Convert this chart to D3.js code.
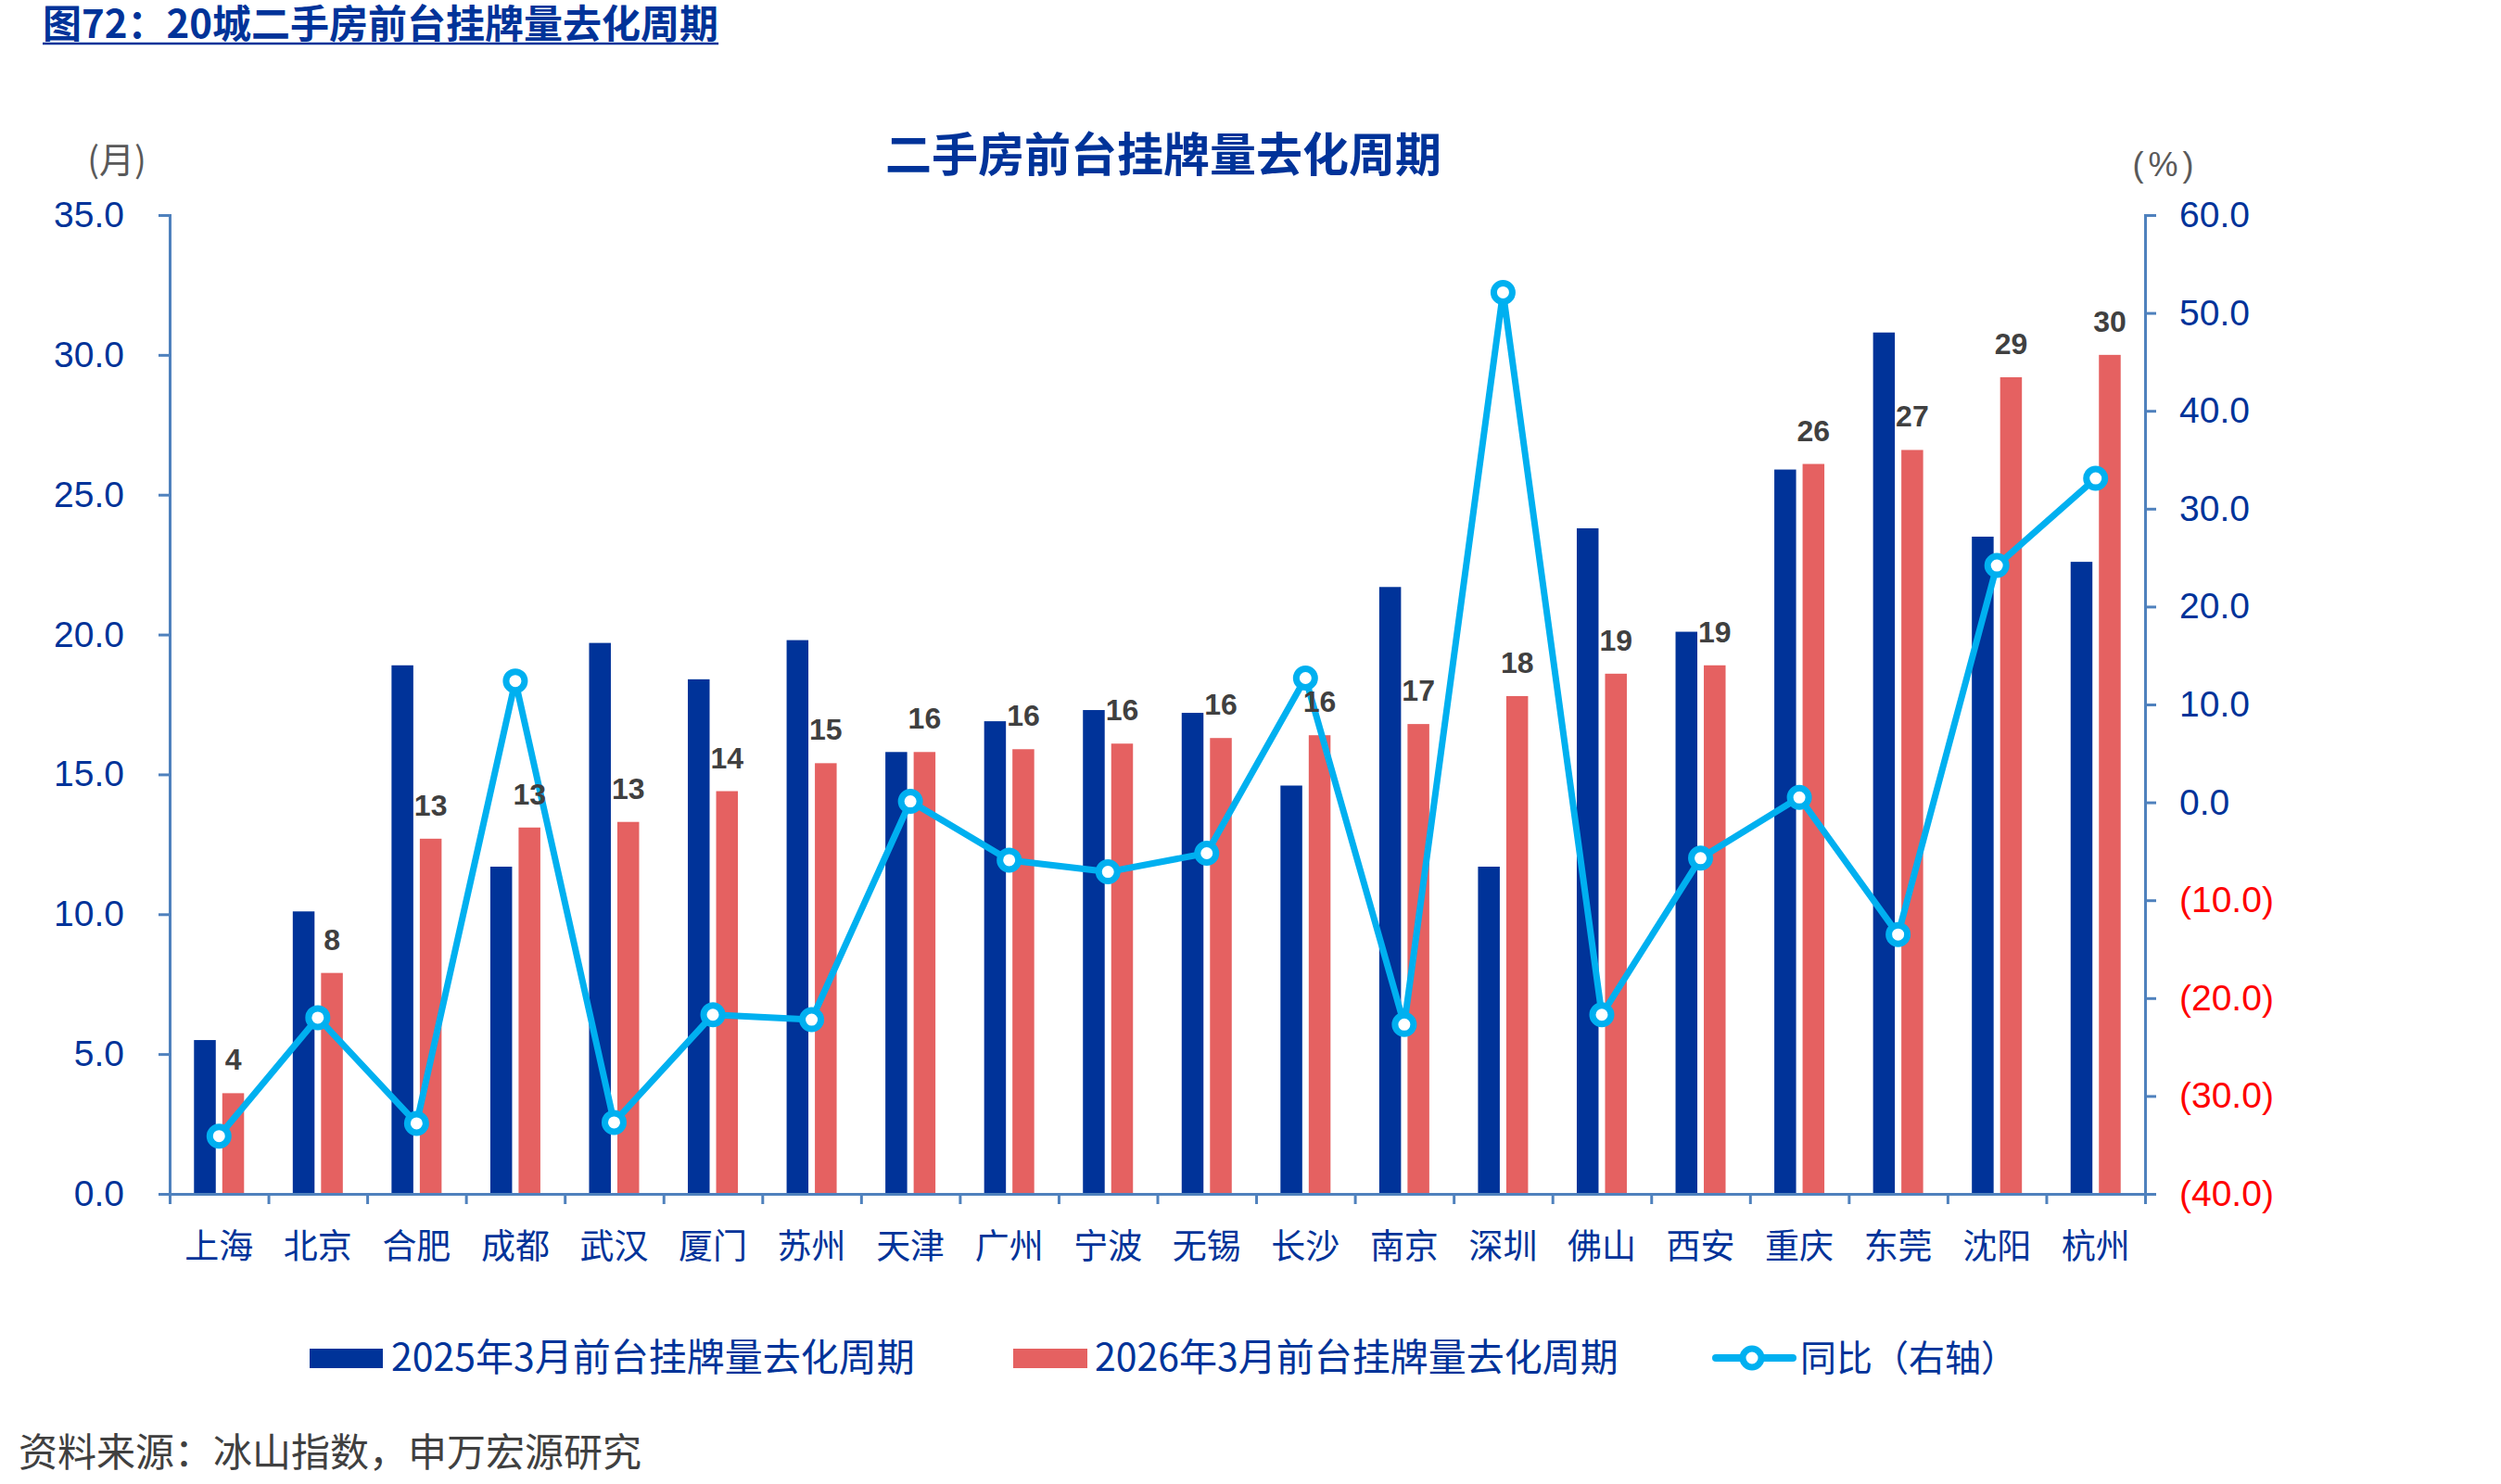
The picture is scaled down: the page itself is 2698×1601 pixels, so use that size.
<!DOCTYPE html>
<html>
<head>
<meta charset="utf-8">
<title>二手房前台挂牌量去化周期</title>
<script src="https://d3js.org/d3.v7.min.js"></script>
<style>
  body { margin: 0; background: #fff; }
  svg { display: block; }
  .cn { font-family: "Noto Sans CJK SC", "Noto Sans", sans-serif; }
  .num { font-family: "Liberation Sans", Arial, sans-serif; }
</style>
</head>
<body>
<svg id="chart" width="2698" height="1601"></svg>
<script>
// city names on the x axis
var cities = ["上海","北京","合肥","成都","武汉","厦门","苏州","天津","广州","宁波",
              "无锡","长沙","南京","深圳","佛山","西安","重庆","东莞","沈阳","杭州"];
// months, March 2025
var cycle2025 = [5.5,10.1,18.9,11.7,19.7,18.4,19.8,15.8,16.9,17.3,
                 17.2,14.6,21.7,11.7,23.8,20.1,25.9,30.8,23.5,22.6];
// months, March 2026
var cycle2026 = [3.6,7.9,12.7,13.1,13.3,14.4,15.4,15.8,15.9,16.1,
                 16.3,16.4,16.8,17.8,18.6,18.9,26.1,26.6,29.2,30.0];
// year on year change, %
var yoy = [-34.1,-22.0,-32.8,12.4,-32.7,-21.7,-22.2,0.1,-5.9,-7.1,
           -5.2,12.7,-22.7,52.1,-21.7,-5.7,0.5,-13.5,24.2,33.1];
var leftTicks = [0,5,10,15,20,25,30,35];
var rightTicks = [-40,-30,-20,-10,0,10,20,30,40,50,60];
var seriesNames = ["2025年3月前台挂牌量去化周期","2026年3月前台挂牌量去化周期","同比（右轴）"];

var navy = "#003399", red = "#E56161", cyan = "#00B0F0", axisColor = "#4F81BD";

var svg = d3.select("#chart");
var plotL = 183, plotR = 2314, plotT = 232, plotB = 1288;

var data = cities.map(function(c, i) {
    return {city: c, a: cycle2025[i], b: cycle2026[i], yoy: yoy[i]};
});

// scales
var x = d3.scaleBand().domain(cities).range([plotL, plotR]).paddingInner(0).paddingOuter(0);
var xSub = d3.scaleBand().domain(["a","b"])
    .range([x.bandwidth() / 2 - 27, x.bandwidth() / 2 + 27]).paddingInner(0.23);
var yL = d3.scaleLinear().domain([0, 35]).range([plotB, plotT]);
var yR = d3.scaleLinear().domain([-40, 60]).range([plotB, plotT]);
var xEdge = d3.scaleLinear().domain([0, cities.length]).range([plotL, plotR]);

// header
var header = svg.append("text")
    .attr("class", "cn")
    .attr("x", 46).attr("y", 41)
    .attr("fill", navy)
    .style("font-size", "42px").style("font-weight", 700)
    .text("图72：20城二手房前台挂牌量去化周期");
var hb = header.node().getBBox();
svg.append("line")
    .attr("x1", hb.x).attr("x2", hb.x + hb.width)
    .attr("y1", 47).attr("y2", 47)
    .attr("stroke", navy).attr("stroke-width", 2.5);

// chart title
svg.append("text")
    .attr("class", "cn")
    .attr("x", 1255).attr("y", 185)
    .attr("text-anchor", "middle")
    .attr("fill", navy)
    .style("font-size", "50px").style("font-weight", 700)
    .text("二手房前台挂牌量去化周期");

// unit labels
svg.append("text").attr("class", "cn")
    .attr("x", 126).attr("y", 186).attr("text-anchor", "middle")
    .attr("fill", "#595959").style("font-size", "38px").text("(月)");
svg.append("text").attr("class", "num")
    .attr("x", 2336).attr("y", 190).attr("text-anchor", "middle")
    .attr("fill", "#595959").style("font-size", "36px").style("letter-spacing", "5px")
    .text("(%)");

// bars
var groups = svg.append("g").selectAll("g").data(data).enter().append("g")
    .attr("transform", function(d) { return "translate(" + x(d.city) + ",0)"; });

groups.append("rect")
    .attr("x", xSub("a")).attr("width", xSub.bandwidth())
    .attr("y", function(d) { return yL(d.a); })
    .attr("height", function(d) { return yL(0) - yL(d.a); })
    .attr("fill", navy);

groups.append("rect")
    .attr("x", xSub("b")).attr("width", xSub.bandwidth())
    .attr("y", function(d) { return yL(d.b); })
    .attr("height", function(d) { return yL(0) - yL(d.b); })
    .attr("fill", red);

// left axis
var axL = svg.append("g").attr("transform", "translate(" + plotL + ",0)")
    .call(d3.axisLeft(yL).tickValues(leftTicks).tickFormat(d3.format(".1f"))
        .tickSize(12).tickPadding(37));

// right axis
var fmtR = function(v) { return v < 0 ? "(" + d3.format(".1f")(-v) + ")" : d3.format(".1f")(v); };
var axR = svg.append("g").attr("transform", "translate(" + plotR + ",0)")
    .call(d3.axisRight(yR).tickValues(rightTicks).tickFormat(fmtR)
        .tickSize(12).tickPadding(25));
axR.selectAll(".tick text").attr("fill", function(d) { return d < 0 ? "#FF0000" : navy; });
axL.selectAll(".tick text").attr("fill", navy);

// bottom axis: boundary ticks and city labels
var axB = svg.append("g").attr("transform", "translate(0," + plotB + ")")
    .call(d3.axisBottom(xEdge).tickValues(d3.range(0, cities.length + 1))
        .tickFormat("").tickSize(11));
var axC = svg.append("g").attr("transform", "translate(0," + plotB + ")")
    .call(d3.axisBottom(x).tickSize(0).tickPadding(0));
axC.select(".domain").remove();
axC.selectAll(".tick text")
    .attr("class", "cn").attr("y", 57).attr("dy", "0.35em")
    .attr("fill", navy).style("font-size", "37px");

[axL, axR].forEach(function(a) {
    a.selectAll(".tick text").attr("class", "num").style("font-size", "39px");
});
[axL, axR, axB].forEach(function(a) {
    a.select(".domain").attr("stroke", axisColor).attr("stroke-width", 3);
    a.selectAll(".tick line").attr("stroke", axisColor).attr("stroke-width", 3);
});
svg.selectAll("g").attr("font-family", null).attr("font-size", null);

// yoy line
var line = d3.line()
    .x(function(d) { return x(d.city) + x.bandwidth() / 2; })
    .y(function(d) { return yR(d.yoy); });
svg.append("path").datum(data)
    .attr("d", line)
    .attr("fill", "none").attr("stroke", cyan)
    .attr("stroke-width", 7).attr("stroke-linejoin", "round");
svg.append("g").selectAll("circle").data(data).enter().append("circle")
    .attr("cx", function(d) { return x(d.city) + x.bandwidth() / 2; })
    .attr("cy", function(d) { return yR(d.yoy); })
    .attr("r", 10)
    .attr("fill", "#fff").attr("stroke", cyan).attr("stroke-width", 7);

// value labels over the 2026 bars
svg.append("g").selectAll("text").data(data).enter().append("text")
    .attr("class", "num")
    .attr("x", function(d) { return x(d.city) + xSub("b") + xSub.bandwidth() / 2; })
    .attr("y", function(d) { return yL(d.b) - 25; })
    .attr("text-anchor", "middle")
    .attr("fill", "#404040")
    .style("font-size", "32px").style("font-weight", 700)
    .text(function(d) { return d3.format(".0f")(d.b); });

// legend
var legY = 1465;
var leg = svg.append("g");
leg.append("rect").attr("x", 334).attr("y", legY - 10).attr("width", 79).attr("height", 21).attr("fill", navy);
leg.append("rect").attr("x", 1093).attr("y", legY - 10).attr("width", 80).attr("height", 21).attr("fill", red);
leg.append("line").attr("x1", 1851).attr("x2", 1934).attr("y1", legY).attr("y2", legY)
    .attr("stroke", cyan).attr("stroke-width", 8).attr("stroke-linecap", "round");
leg.append("circle").attr("cx", 1890).attr("cy", legY).attr("r", 10)
    .attr("fill", "#fff").attr("stroke", cyan).attr("stroke-width", 7);
leg.selectAll("text").data(seriesNames).enter().append("text")
    .attr("class", "cn")
    .attr("x", function(d, i) { return [422, 1181, 1942][i]; })
    .attr("y", legY).attr("dy", "0.35em")
    .attr("fill", navy).style("font-size", function(d, i) { return i < 2 ? "41px" : "39px"; })
    .text(function(d) { return d; });

// source note
svg.append("text").attr("class", "cn")
    .attr("x", 20).attr("y", 1567).attr("dy", "0.35em")
    .attr("fill", "#404040").style("font-size", "42px")
    .text("资料来源：冰山指数，申万宏源研究");
</script>
</body>
</html>
